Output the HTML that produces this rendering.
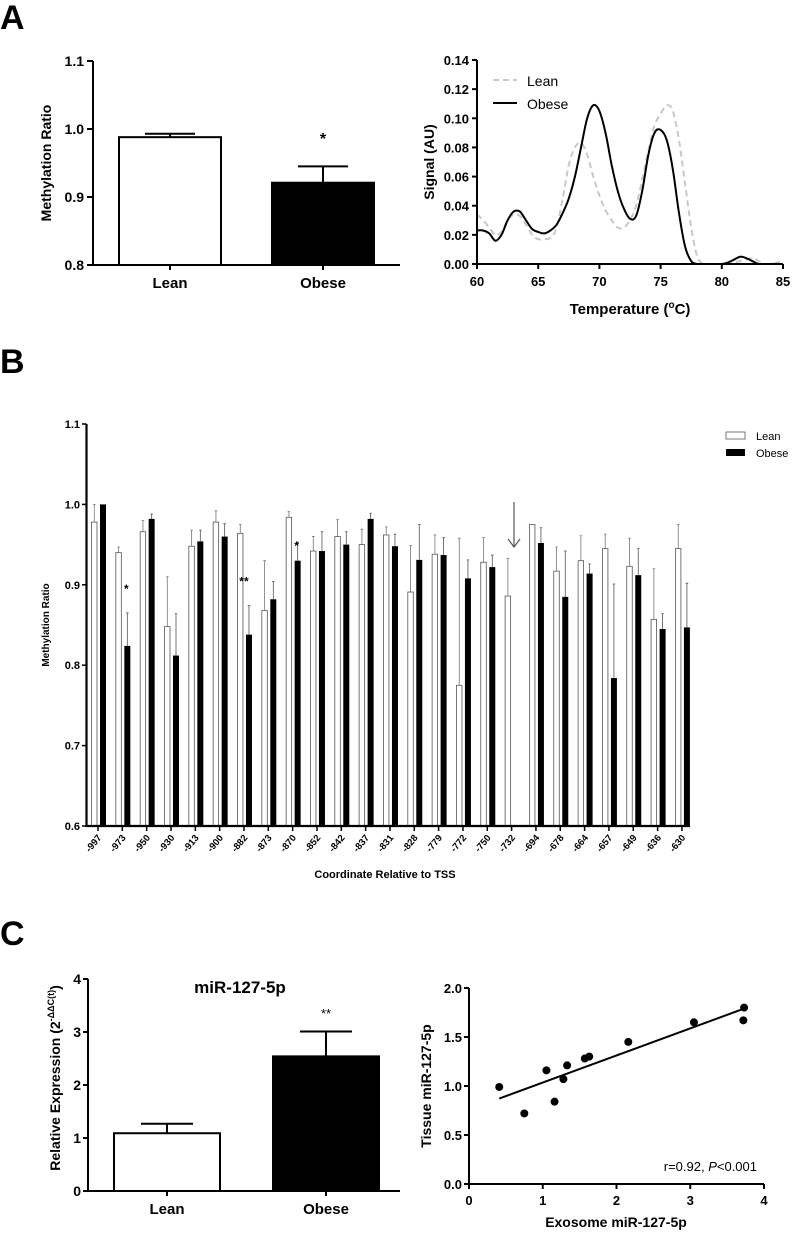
<!DOCTYPE html>
<html><head><meta charset="utf-8"><style>
body{margin:0;background:#fff}
svg{display:block;font-family:"Liberation Sans",Arial,sans-serif}
</style></head><body>
<svg id="fig" width="798" height="1233" viewBox="0 0 798 1233">
<text x="0" y="29" font-size="34" font-weight="bold">A</text>
<text x="0" y="373" font-size="34" font-weight="bold">B</text>
<text x="0" y="945" font-size="34" font-weight="bold">C</text>
<g id="a1"></g>
<g id="a2"></g>
<g id="b"></g>
<g id="c1"></g>
<g id="c2"></g>
</svg>
<script>
// Panel A left
const aCats=["Lean","Obese"];
const aVals=[0.988,0.921];
const aErr=[0.005,0.024];
const aTicks=[0.8,0.9,1.0,1.1];
// Panel A right
const mTemps=[60,60.5,61,61.5,62,62.5,63,63.5,64,64.5,65,65.5,66,66.5,67,67.5,68,68.5,69,69.5,70,70.5,71,71.5,72,72.5,73,73.5,74,74.5,75,75.5,76,76.5,77,77.5,78,78.5,79,79.5,80,80.5,81,81.5,82,82.5,83,83.5,84,84.5,85];
const mObese=[0.023,0.023,0.021,0.016,0.02,0.03,0.036,0.036,0.03,0.024,0.022,0.021,0.023,0.027,0.035,0.045,0.06,0.08,0.1,0.109,0.105,0.09,0.068,0.05,0.038,0.031,0.033,0.05,0.075,0.09,0.092,0.085,0.065,0.035,0.012,0.002,0,0,0,0,0,0.001,0.003,0.005,0.004,0.002,0,0,0,0,0];
const mLean=[0.034,0.03,0.025,0.02,0.022,0.03,0.034,0.033,0.027,0.02,0.017,0.017,0.018,0.025,0.045,0.068,0.08,0.083,0.075,0.06,0.047,0.037,0.03,0.025,0.025,0.03,0.04,0.058,0.078,0.095,0.103,0.109,0.105,0.085,0.055,0.025,0.005,0,0,0,0,0,0.001,0.002,0.003,0.004,0.002,0,0,0.001,0.003];
const mYTicks=[0,0.02,0.04,0.06,0.08,0.10,0.12,0.14];
const mXTicks=[60,65,70,75,80,85];
// Panel B
const bCats=["-997","-973","-950","-930","-913","-900","-882","-873","-870","-852","-842","-837","-831","-828","-779","-772","-750","-732","-694","-678","-664","-657","-649","-636","-630"];
const bLean=[0.978,0.94,0.966,0.848,0.948,0.978,0.964,0.868,0.984,0.942,0.96,0.95,0.962,0.891,0.938,0.775,0.928,0.886,0.975,0.917,0.93,0.945,0.923,0.857,0.945];
const bLeanErr=[0.022,0.007,0.014,0.062,0.02,0.014,0.011,0.062,0.007,0.018,0.021,0.019,0.01,0.058,0.024,0.183,0.031,0.047,0,0.03,0.031,0.018,0.035,0.063,0.03];
const bObese=[1.0,0.824,0.982,0.812,0.954,0.96,0.838,0.882,0.93,0.942,0.95,0.982,0.948,0.931,0.937,0.908,0.922,null,0.952,0.885,0.914,0.784,0.912,0.845,0.847];
const bObeseErr=[0,0.041,0.006,0.052,0.014,0.016,0.036,0.022,0.023,0.024,0.016,0.007,0.015,0.044,0.022,0.023,0.015,0,0.019,0.057,0.012,0.117,0.033,0.019,0.055];
const bTicks=[0.6,0.7,0.8,0.9,1.0,1.1];
const bStars=[[1,"*"],[6,"**"],[8,"*"]];
// Panel C left
const cCats=["Lean","Obese"];
const cVals=[1.09,2.54];
const cErr=[0.18,0.47];
const cTicks=[0,1,2,3,4];
// Panel C right
const sX=[0.41,0.75,1.05,1.16,1.28,1.33,1.57,1.63,2.16,3.05,3.73,3.72];
const sY=[0.99,0.72,1.16,0.84,1.07,1.21,1.28,1.30,1.45,1.65,1.80,1.67];
const sXTicks=[0,1,2,3,4];
const sYTicks=[0,0.5,1.0,1.5,2.0];

const NS="http://www.w3.org/2000/svg";
function mk(p,tag,at,txt){const e=document.createElementNS(NS,tag);for(const k in at)e.setAttribute(k,at[k]);if(txt!==undefined)e.textContent=txt;p.appendChild(e);return e;}
function lin(d0,d1,r0,r1){return v=>r0+(v-d0)*(r1-r0)/(d1-d0);}

// ---- A left
(function(){
 const g=document.getElementById('a1');
 const y=lin(0.8,1.1,265,61);
 const cx=[170,323], w=102;
 aCats.forEach((c,i)=>{
  const top=y(aVals[i]);
  const r=mk(g,'rect',{x:cx[i]-w/2,y:top,width:w,height:265-top,fill:i?'#000':'#fff',stroke:'#000','stroke-width':2});
  
  
  const et=y(aVals[i]+aErr[i]);
  mk(g,'path',{d:`M${cx[i]},${top} V${et} M${cx[i]-25},${et} H${cx[i]+25}`,stroke:'#000','stroke-width':2,fill:'none'});
  mk(g,'line',{x1:cx[i],x2:cx[i],y1:265,y2:270,stroke:'#000','stroke-width':2});
  const t=mk(g,'text',{x:cx[i],y:288,'text-anchor':'middle','font-size':15,'font-weight':'bold'},c);
  
  
 });
 mk(g,'text',{x:323,y:144,'text-anchor':'middle','font-size':16,'font-weight':'bold'},'*');
 mk(g,'path',{d:'M93,61 V265 H400',stroke:'#000','stroke-width':2,fill:'none'});
 aTicks.forEach(v=>{mk(g,'line',{x1:87,x2:93,y1:y(v),y2:y(v),stroke:'#000','stroke-width':2});
  mk(g,'text',{x:84,y:y(v)+5,'text-anchor':'end','font-size':14,'font-weight':'bold'},v.toFixed(1));});
 const t=mk(g,'text',{transform:'translate(51,163) rotate(-90)','text-anchor':'middle','font-size':14,'font-weight':'bold'},'Methylation Ratio');
 
})();

// ---- A right
(function(){
 const g=document.getElementById('a2');
 const x=lin(60,85,477,783), y=lin(0,0.14,264,60);
 const path=arr=>{
  const P=arr.map((v,i)=>[x(mTemps[i]),y(v)]);
  let d='M'+P[0][0].toFixed(1)+','+P[0][1].toFixed(1);
  for(let i=0;i<P.length-1;i++){
   const p0=P[Math.max(0,i-1)],p1=P[i],p2=P[i+1],p3=P[Math.min(P.length-1,i+2)];
   const c1=[p1[0]+(p2[0]-p0[0])/6,p1[1]+(p2[1]-p0[1])/6];
   const c2=[p2[0]-(p3[0]-p1[0])/6,p2[1]-(p3[1]-p1[1])/6];
   d+=` C${c1[0].toFixed(1)},${Math.min(264,c1[1]).toFixed(1)} ${c2[0].toFixed(1)},${Math.min(264,c2[1]).toFixed(1)} ${p2[0].toFixed(1)},${p2[1].toFixed(1)}`;
  }
  return d;};
 const l=mk(g,'path',{d:path(mLean),stroke:'#c8c8c8','stroke-width':2,fill:'none','stroke-dasharray':'6,4','stroke-linejoin':'round'});
 
 const o=mk(g,'path',{d:path(mObese),stroke:'#000','stroke-width':2,fill:'none','stroke-linejoin':'round'});
 
 mk(g,'path',{d:'M477,60 V264 H783',stroke:'#000','stroke-width':2,fill:'none'});
 mYTicks.forEach(v=>{mk(g,'line',{x1:472,x2:477,y1:y(v),y2:y(v),stroke:'#000','stroke-width':2});
  mk(g,'text',{x:469,y:y(v)+5,'text-anchor':'end','font-size':13,'font-weight':'bold'},v.toFixed(2));});
 mXTicks.forEach(v=>{mk(g,'line',{x1:x(v),x2:x(v),y1:264,y2:269,stroke:'#000','stroke-width':2});
  mk(g,'text',{x:x(v),y:286,'text-anchor':'middle','font-size':13,'font-weight':'bold'},v);});
 const xt=mk(g,'text',{x:630,y:314,'text-anchor':'middle','font-size':15,'font-weight':'bold'});
 xt.innerHTML='Temperature (<tspan dy="-6" font-size="10">o</tspan><tspan dy="6">C)</tspan>';
 
 const yt=mk(g,'text',{transform:'translate(434,162) rotate(-90)','text-anchor':'middle','font-size':14,'font-weight':'bold'},'Signal (AU)');
 
 mk(g,'line',{x1:493,x2:517,y1:80,y2:80,stroke:'#c8c8c8','stroke-width':2,'stroke-dasharray':'6,4'});
 const le=mk(g,'text',{x:527,y:86,'font-size':14},'Lean');
 
 mk(g,'line',{x1:493,x2:517,y1:103,y2:103,stroke:'#000','stroke-width':2});
 const lo=mk(g,'text',{x:527,y:109,'font-size':14},'Obese');
 
})();

// ---- B
(function(){
 const g=document.getElementById('b');
 const y=lin(0.6,1.1,826,424);
 const gx=i=>98+i*24.33;
 bCats.forEach((c,i)=>{
  const cx=gx(i);
  const lt=y(bLean[i]);
  const r=mk(g,'rect',{x:cx-6.5,y:lt,width:5.5,height:826-lt,fill:'#fff',stroke:'#555','stroke-width':0.8});
  
  if(bLeanErr[i]>0){const e=y(bLean[i]+bLeanErr[i]);mk(g,'path',{d:`M${cx-3.7},${lt} V${e} M${cx-5},${e} H${cx-2.4}`,stroke:'#777','stroke-width':0.8,fill:'none'});}
  if(bObese[i]!==null){
   const ot=y(bObese[i]);
   const b=mk(g,'rect',{x:cx+2,y:ot,width:6,height:826-ot,fill:'#000'});
   
   if(bObeseErr[i]>0){const e=y(bObese[i]+bObeseErr[i]);mk(g,'path',{d:`M${cx+5},${ot} V${e} M${cx+3.7},${e} H${cx+6.3}`,stroke:'#555','stroke-width':0.8,fill:'none'});}
  }
  mk(g,'line',{x1:cx,x2:cx,y1:826,y2:831,stroke:'#000','stroke-width':1.5});
  const t=mk(g,'text',{transform:`translate(${cx+4},${838}) rotate(-50)`,'text-anchor':'end','font-size':9.5,'font-weight':'bold'},c);
  
 });
 bStars.forEach(s=>mk(g,'text',{x:gx(s[0])+(s[1].length>1?0:4),y:y(bObese[s[0]]+bObeseErr[s[0]])-(s[0]==8?-8:20),'text-anchor':'middle','font-size':12,'font-weight':'bold'},s[1]));
 mk(g,'path',{d:'M86.5,424 V826 H690',stroke:'#000','stroke-width':2.2,fill:'none'});
 bTicks.forEach(v=>{mk(g,'line',{x1:82,x2:86.5,y1:y(v),y2:y(v),stroke:'#000','stroke-width':1.5});
  mk(g,'text',{x:80,y:y(v)+4,'text-anchor':'end','font-size':11,'font-weight':'bold'},v.toFixed(1));});
 const yt=mk(g,'text',{transform:'translate(49,625) rotate(-90)','text-anchor':'middle','font-size':10,'font-weight':'bold'},'Methylation Ratio');
 
 const xt=mk(g,'text',{x:385,y:878,'text-anchor':'middle','font-size':11,'font-weight':'bold'},'Coordinate Relative to TSS');
 
 mk(g,'path',{d:'M514,502 V547 M508,539 L514,547 L520,539',stroke:'#555','stroke-width':1.2,fill:'none'});
 mk(g,'rect',{x:726,y:432,width:19,height:7,fill:'#fff',stroke:'#555','stroke-width':0.8});
 const l1=mk(g,'text',{x:756,y:440,'font-size':11},'Lean');
 mk(g,'rect',{x:726,y:449,width:19,height:7,fill:'#000'});
 const l2=mk(g,'text',{x:756,y:457,'font-size':11},'Obese');
})();

// ---- C left
(function(){
 const g=document.getElementById('c1');
 const y=lin(0,4,1191,979);
 const cx=[167,326], w=106;
 cCats.forEach((c,i)=>{
  const top=y(cVals[i]);
  const r=mk(g,'rect',{x:cx[i]-w/2,y:top,width:w,height:1191-top,fill:i?'#000':'#fff',stroke:'#000','stroke-width':2});
  
  const et=y(cVals[i]+cErr[i]);
  mk(g,'path',{d:`M${cx[i]},${top} V${et} M${cx[i]-26},${et} H${cx[i]+26}`,stroke:'#000','stroke-width':2,fill:'none'});
  mk(g,'line',{x1:cx[i],x2:cx[i],y1:1191,y2:1196,stroke:'#000','stroke-width':2});
  mk(g,'text',{x:cx[i],y:1214,'text-anchor':'middle','font-size':15,'font-weight':'bold'},c);
 });
 mk(g,'text',{x:326,y:1018,'text-anchor':'middle','font-size':13},'**');
 mk(g,'path',{d:'M88,979 V1191 H400',stroke:'#000','stroke-width':2,fill:'none'});
 cTicks.forEach(v=>{mk(g,'line',{x1:83,x2:88,y1:y(v),y2:y(v),stroke:'#000','stroke-width':2});
  mk(g,'text',{x:81,y:y(v)+5,'text-anchor':'end','font-size':14,'font-weight':'bold'},v);});
 const tt=mk(g,'text',{x:240,y:993,'text-anchor':'middle','font-size':17,'font-weight':'bold'},'miR-127-5p');
 
 const yt=mk(g,'text',{transform:'translate(60,1078) rotate(-90)','text-anchor':'middle','font-size':14,'font-weight':'bold'});
 yt.innerHTML='Relative Expression (2<tspan dy="-6" font-size="9">-ΔΔC(t)</tspan><tspan dy="6">)</tspan>';
 
})();

// ---- C right
(function(){
 const g=document.getElementById('c2');
 const x=lin(0,4,469,764), y=lin(0,2,1184,988);
 const n=sX.length, mx=sX.reduce((a,b)=>a+b)/n, my=sY.reduce((a,b)=>a+b)/n;
 let sxy=0,sxx=0;sX.forEach((v,i)=>{sxy+=(v-mx)*(sY[i]-my);sxx+=(v-mx)*(v-mx);});
 const sl=sxy/sxx, ic=my-sl*mx, x0=Math.min(...sX), x1=Math.max(...sX);
 const fl=mk(g,'line',{x1:x(x0),y1:y(ic+sl*x0),x2:x(x1),y2:y(ic+sl*x1),stroke:'#000','stroke-width':2});
 
 sX.forEach((v,i)=>{const c=mk(g,'circle',{cx:x(v),cy:y(sY[i]),r:4,fill:'#000'});
  });
 mk(g,'path',{d:'M469,988 V1184 H764',stroke:'#000','stroke-width':2,fill:'none'});
 sYTicks.forEach(v=>{mk(g,'line',{x1:464,x2:469,y1:y(v),y2:y(v),stroke:'#000','stroke-width':2});
  mk(g,'text',{x:462,y:y(v)+5,'text-anchor':'end','font-size':13,'font-weight':'bold'},v.toFixed(1));});
 sXTicks.forEach(v=>{mk(g,'line',{x1:x(v),x2:x(v),y1:1184,y2:1189,stroke:'#000','stroke-width':2});
  mk(g,'text',{x:x(v),y:1205,'text-anchor':'middle','font-size':13,'font-weight':'bold'},v);});
 const xt=mk(g,'text',{x:616,y:1227,'text-anchor':'middle','font-size':14,'font-weight':'bold'},'Exosome miR-127-5p');
 
 const yt=mk(g,'text',{transform:'translate(431,1086) rotate(-90)','text-anchor':'middle','font-size':14,'font-weight':'bold'},'Tissue miR-127-5p');
 
 const an=mk(g,'text',{x:757,y:1171,'text-anchor':'end','font-size':13});
 an.innerHTML='r=0.92, <tspan font-style="italic">P</tspan>&lt;0.001';
 
})();
</script>
</body></html>
